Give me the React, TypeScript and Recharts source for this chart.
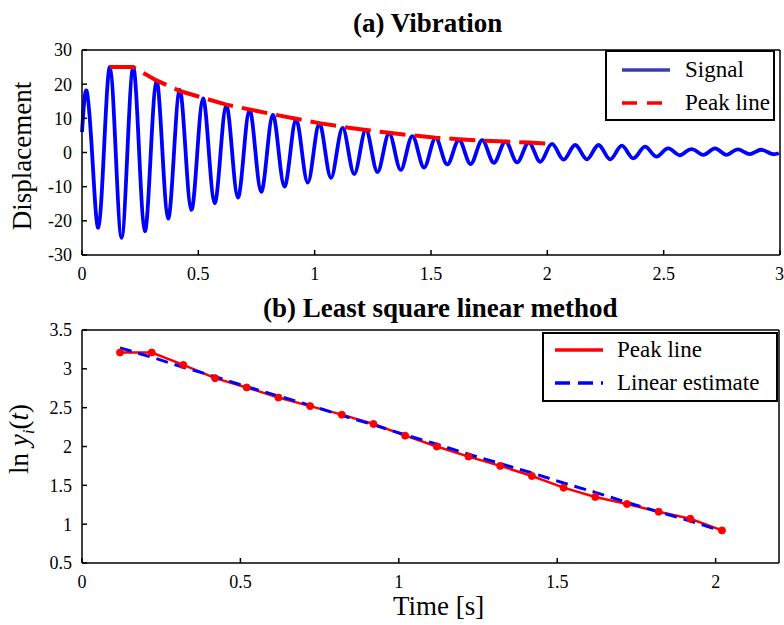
import React from "react";
import { LineChart, Line, XAxis, YAxis, Legend } from "recharts";

// (a) sampled signal: first point at t=0, then one value every 0.025 s from 0.02 s
// each row is one cycle: peak, crossing, trough, crossing
const signalStart = 6;
const signalValues = [
  18, -2, -22, 1.5,
  25, 0, -25, 0,
  25, 1, -23, -1,
  21, 1, -19.3, -0.5,
  18.3, 0.5, -16.8, -0.5,
  15.8, 0.5, -14.8, -0.5,
  13.8, 0.3, -13.2, -0.3,
  12.5, 0.5, -11.5, -0.3,
  11, 0.5, -10, -0.2,
  9.7, 0.4, -8.8, -0.2,
  8.5, 0.5, -7.4, 0,
  7.2, 0.4, -6.3, 0.2,
  6.7, 0.4, -5.7, 0,
  5.6, 0.2, -5.1, 0,
  4.8, 0.2, -4.4, 0,
  4.3, 0.3, -3.5, 0.1,
  3.7, 0.2, -3.4, 0.1,
  3.6, 0.3, -3.0, 0.1,
  3.2, 0.2, -2.9, 0,
  2.9, 0.1, -2.7, 0,
  2.5, 0.2, -2.1, 0.1,
  2.2, 0.1, -2.0, 0.1,
  2.2, 0.1, -2.0, 0,
  2.0, 0.1, -1.7, 0,
  1.7, 0.2, -1.2, 0.1,
  1.2, 0.2, -0.8, 0.2,
  1.0, 0.2, -0.7, 0.2,
  1.2, 0.3, -0.7, 0.2,
  0.9, 0.2, -0.5, 0.2,
  0.8, 0.2, -0.5, -0.2,
];

// peaks picked from the signal
const peakTimes = [
  0.12, 0.22, 0.32, 0.42, 0.52, 0.62, 0.72, 0.82, 0.92, 1.02,
  1.12, 1.22, 1.32, 1.42, 1.52, 1.62, 1.72, 1.82, 1.92, 2.02,
];
const peakAmp = [
  25, 25, 21.1, 18, 16, 14, 12.6, 11.2, 9.9, 8.6,
  7.5, 6.6, 5.75, 5.0, 4.35, 3.9, 3.5, 3.2, 2.9, 2.5,
];

// (b) log of peaks and the least-squares line
const lnPeak = [
  3.21, 3.21, 3.05, 2.88, 2.76, 2.63, 2.52, 2.41, 2.29, 2.14,
  2.0, 1.87, 1.75, 1.62, 1.47, 1.35, 1.26, 1.16, 1.07, 0.92,
];
const linearEstimate = [
  3.27, 3.15, 3.02, 2.9, 2.77, 2.65, 2.53, 2.4, 2.28, 2.15,
  2.03, 1.9, 1.78, 1.66, 1.53, 1.41, 1.28, 1.16, 1.04, 0.91,
];

const xTicksA = [0, 0.5, 1, 1.5, 2, 2.5, 3];
const yTicksA = [-30, -20, -10, 0, 10, 20, 30];
const xTicksB = [0, 0.5, 1, 1.5, 2];
const yTicksB = [0.5, 1, 1.5, 2, 2.5, 3, 3.5];

const SAMPLE_T0 = 0.02;
const SAMPLE_DT = 0.025;

const signalData = [
  { t: 0, v: signalStart },
  ...signalValues.map((v, i) => ({ t: SAMPLE_T0 + i * SAMPLE_DT, v })),
];
const peakData = peakTimes.map((t, i) => ({ t, v: peakAmp[i] }));
const lnData = peakTimes.map((t, i) => ({ t, ln: lnPeak[i], est: linearEstimate[i] }));

const FONT = '"Liberation Serif", "Times New Roman", serif';
const tickStyle = { fontFamily: FONT, fontSize: 18, fill: "#000" };
const axisLine = { stroke: "#000", strokeWidth: 1.5 };
const tickLine = { stroke: "#000", strokeWidth: 1.5 };

interface LegendRow {
  label: string;
  color: string;
  dash?: string;
}

interface LegendBoxProps {
  rows: LegendRow[];
  width: number;
  height: number;
  rowY: number[];
  lineX: [number, number];
  textX: number;
}

const LegendBox: React.FC<LegendBoxProps> = ({ rows, width, height, rowY, lineX, textX }) => (
  <div
    style={{
      position: "relative",
      width,
      height,
      boxSizing: "border-box",
      border: "2px solid #000",
      background: "#fff",
      fontFamily: FONT,
      fontSize: 23,
      color: "#000",
    }}
  >
    <svg width={width} height={height} style={{ position: "absolute", left: -2, top: -2 }}>
      {rows.map((r, i) => (
        <line
          key={r.label}
          x1={lineX[0]}
          x2={lineX[1]}
          y1={rowY[i]}
          y2={rowY[i]}
          stroke={r.color}
          strokeWidth={3.5}
          strokeDasharray={r.dash}
        />
      ))}
    </svg>
    {rows.map((r, i) => (
      <div
        key={r.label}
        style={{
          position: "absolute",
          left: textX - 2,
          top: rowY[i] - 2 - 13,
          lineHeight: "26px",
          whiteSpace: "nowrap",
        }}
      >
        {r.label}
      </div>
    ))}
  </div>
);

const textAbs = (left: number, top: number, extra: React.CSSProperties = {}): React.CSSProperties => ({
  position: "absolute",
  left,
  top,
  fontFamily: FONT,
  fontSize: 27,
  lineHeight: "27px",
  whiteSpace: "nowrap",
  color: "#000",
  ...extra,
});

export default function App() {
  return (
    <div style={{ position: "absolute", left: 0, top: 0, width: 784, height: 625, background: "#fff" }}>
      {/* (a) */}
      <div style={{ position: "absolute", left: 0, top: 0 }}>
        <LineChart width={784} height={290} margin={{ top: 49, right: 3, left: 0, bottom: 5 }}>
          <XAxis
            type="number"
            dataKey="t"
            domain={[0, 3]}
            ticks={xTicksA}
            height={30}
            tick={tickStyle}
            tickSize={-5}
            tickMargin={17}
            axisLine={axisLine}
            tickLine={tickLine}
          />
          <XAxis
            xAxisId="top"
            orientation="top"
            type="number"
            domain={[0, 3]}
            ticks={xTicksA}
            height={1}
            tick={false}
            tickSize={-5}
            axisLine={axisLine}
            tickLine={tickLine}
          />
          <YAxis
            type="number"
            domain={[-30, 30]}
            ticks={yTicksA}
            width={82}
            tick={tickStyle}
            tickSize={-5}
            tickMargin={15}
            axisLine={axisLine}
            tickLine={tickLine}
          />
          <YAxis
            yAxisId="right"
            orientation="right"
            type="number"
            domain={[-30, 30]}
            ticks={yTicksA}
            width={1}
            tick={false}
            tickSize={-5}
            axisLine={axisLine}
            tickLine={tickLine}
          />
          <Legend
            layout="vertical"
            align="center"
            verticalAlign="middle"
            wrapperStyle={{ left: 605, top: 50, width: 170, height: 71 }}
            content={() => (
              <LegendBox
                width={170}
                height={71}
                rowY={[20, 53]}
                lineX={[17, 65]}
                textX={80}
                rows={[
                  { label: "Signal", color: "#3c3cb0" },
                  { label: "Peak line", color: "#ff0000", dash: "15 10" },
                ]}
              />
            )}
          />
          <Line
            data={signalData}
            dataKey="v"
            name="Signal"
            type="natural"
            stroke="#0000ff"
            strokeWidth={3.8}
            dot={false}
            isAnimationActive={false}
          />
          <Line
            data={peakData}
            dataKey="v"
            name="Peak line"
            type="linear"
            stroke="#ff0000"
            strokeWidth={4}
            strokeDasharray="26 9"
            dot={false}
            isAnimationActive={false}
          />
        </LineChart>
      </div>

      {/* (b) */}
      <div style={{ position: "absolute", left: 0, top: 290 }}>
        <LineChart width={784} height={335} margin={{ top: 39, right: 4, left: 0, bottom: 32 }}>
          <XAxis
            type="number"
            dataKey="t"
            domain={[0, 2.2]}
            ticks={xTicksB}
            height={30}
            tick={tickStyle}
            tickSize={-5}
            tickMargin={17}
            axisLine={axisLine}
            tickLine={tickLine}
          />
          <XAxis
            xAxisId="top"
            orientation="top"
            type="number"
            domain={[0, 2.2]}
            ticks={xTicksB}
            height={1}
            tick={false}
            tickSize={-5}
            axisLine={axisLine}
            tickLine={tickLine}
          />
          <YAxis
            type="number"
            domain={[0.5, 3.5]}
            ticks={yTicksB}
            width={82}
            tick={tickStyle}
            tickSize={-5}
            tickMargin={15}
            axisLine={axisLine}
            tickLine={tickLine}
          />
          <YAxis
            yAxisId="right"
            orientation="right"
            type="number"
            domain={[0.5, 3.5]}
            ticks={yTicksB}
            width={1}
            tick={false}
            tickSize={-5}
            axisLine={axisLine}
            tickLine={tickLine}
          />
          <Legend
            layout="vertical"
            align="center"
            verticalAlign="middle"
            wrapperStyle={{ left: 542, top: 42, width: 236, height: 70 }}
            content={() => (
              <LegendBox
                width={236}
                height={70}
                rowY={[18, 51]}
                lineX={[13, 61]}
                textX={75}
                rows={[
                  { label: "Peak line", color: "#ff0000" },
                  { label: "Linear estimate", color: "#0000ff", dash: "15 8" },
                ]}
              />
            )}
          />
          <Line
            data={lnData}
            dataKey="ln"
            name="Peak line"
            type="linear"
            stroke="#ff0000"
            strokeWidth={2.5}
            dot={{ r: 3.5, fill: "#ff0000", stroke: "#ff0000", strokeWidth: 1 }}
            isAnimationActive={false}
          />
          <Line
            data={lnData}
            dataKey="est"
            name="Linear estimate"
            type="linear"
            stroke="#0000ff"
            strokeWidth={3}
            strokeDasharray="12 7"
            dot={false}
            isAnimationActive={false}
          />
        </LineChart>
      </div>

      {/* titles and axis labels */}
      <div style={textAbs(353, 10, { fontWeight: "bold" })}>(a) Vibration</div>
      <div style={textAbs(263, 295, { fontWeight: "bold" })}>(b) Least square linear method</div>
      <div style={textAbs(393, 593)}>Time [s]</div>
      <div
        style={textAbs(22, 156, {
          transform: "translate(-50%, -50%) rotate(-90deg)",
        })}
      >
        Displacement
      </div>
      <div
        style={textAbs(24, 439, {
          transform: "translate(-50%, -50%) rotate(-90deg)",
        })}
      >
        ln <i>y</i>
        <sub style={{ fontSize: 17, fontStyle: "italic" }}>i</sub>(<i>t</i>)
      </div>
    </div>
  );
}
